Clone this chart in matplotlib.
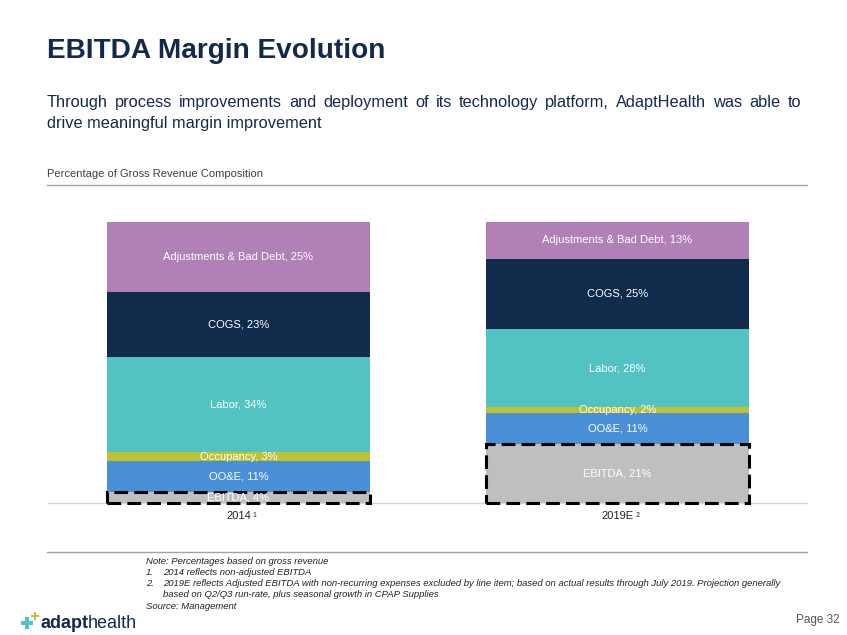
import matplotlib
matplotlib.use("Agg")
import matplotlib.pyplot as plt
from matplotlib.patches import Rectangle

plt.rcParams['font.family'] = ['Liberation Sans', 'DejaVu Sans']

# ---------------- data ----------------
periods = ["2014", "2019E"]
period_marks = ["1", "2"]
components = ["EBITDA", "OO&E", "Occupancy", "Labor", "COGS", "Adjustments & Bad Debt"]
values_2014 = [4, 11, 3, 34, 23, 25]
values_2019 = [21, 11, 2, 28, 25, 13]
colors = ["#BFBFBF", "#4A90D9", "#BEC230", "#52C3C2", "#102B4B", "#B180B7"]

title = "EBITDA Margin Evolution"
subtitle_1 = "Through process improvements and deployment of its technology platform, AdaptHealth was able to"
subtitle_2 = "drive meaningful margin improvement"
section = "Percentage of Gross Revenue Composition"
notes = [
    ("", "Note: Percentages based on gross revenue"),
    ("1.", "2014 reflects non-adjusted EBITDA"),
    ("2.", "2019E reflects Adjusted EBITDA with non-recurring expenses excluded by line item; based on actual results through July 2019. Projection generally"),
    ("", "based on Q2/Q3 run-rate, plus seasonal growth in CPAP Supplies"),
    ("", "Source: Management"),
]

W, H = 847, 635
fig = plt.figure(figsize=(W / 100, H / 100), dpi=100)
fig.patch.set_facecolor("white")

def fy(py):
    return 1 - py / H

def fx(px):
    return px / W

navy = "#13294B"

# Title & subtitle
fig.text(fx(47), fy(58), title, fontsize=20.2, fontweight="bold", color=navy, va="baseline", ha="left")

renderer = fig.canvas.get_renderer()
words = subtitle_1.split(" ")
sub_fs = 11.8
x_left, x_right = 47, 801
tmp = [fig.text(0, 0, w, fontsize=sub_fs) for w in words]
widths = [t.get_window_extent(renderer).width for t in tmp]
for t in tmp:
    t.remove()
gap = (x_right - x_left - sum(widths)) / (len(words) - 1)
x = x_left
for w, wd in zip(words, widths):
    fig.text(fx(x), fy(107), w, fontsize=sub_fs, color=navy, va="baseline", ha="left")
    x += wd + gap
fig.text(fx(47), fy(128), subtitle_2, fontsize=sub_fs, color=navy, va="baseline", ha="left")

# Section header
fig.text(fx(47), fy(177), section, fontsize=8, color="#404040", va="baseline", ha="left")
fig.add_artist(plt.Line2D([fx(47), fx(807)], [fy(185), fy(185)], color="#9AA3AE", lw=1))

# ---------------- chart ----------------
ax = fig.add_axes([fx(48), fy(503), fx(807) - fx(48), fy(222) - fy(503)])
xpos = [0, 1]
bar_w = 0.694
all_vals = [values_2014, values_2019]
for i, vals in enumerate(all_vals):
    bottom = 0
    for j, (comp, v) in enumerate(zip(components, vals)):
        ax.bar(xpos[i], v, bottom=bottom, width=bar_w, color=colors[j], edgecolor="none", zorder=2)
        ax.text(xpos[i], bottom + v / 2, f"{comp}, {v}%", ha="center", va="center",
                color="white", fontsize=8, zorder=4)
        if comp == "EBITDA":
            r = Rectangle((xpos[i] - bar_w / 2, bottom), bar_w, v, fill=False,
                          edgecolor="black", lw=2.2, linestyle=(0, (4.5, 2)), zorder=3, clip_on=False)
            ax.add_patch(r)
        bottom += v

ax.set_xlim(-0.5026, 1.5)
ax.set_ylim(0, 100)
for s in ["top", "right", "left"]:
    ax.spines[s].set_visible(False)
ax.spines["bottom"].set_color("#D9D9D9")
ax.spines["bottom"].set_linewidth(1)
ax.set_yticks([])
ax.set_xticks(xpos)
ax.set_xticklabels(periods, fontsize=8, color="#222222")
ax.tick_params(axis="x", length=0, pad=6)
fig.canvas.draw()
for i, lab in enumerate(ax.get_xticklabels()):
    bb = lab.get_window_extent(renderer)
    fig.text((bb.x1 + 2) / W, (bb.y1 - 1) / H, period_marks[i], fontsize=5, color="#222222",
             ha="left", va="top")

# ---------------- footnotes ----------------
fig.add_artist(plt.Line2D([fx(47), fx(807)], [fy(552), fy(552)], color="#9AA3AE", lw=1))
note_fam = ['Liberation Sans Narrow', 'Liberation Sans']
note_fs = 6.8
ys = [564, 575, 586, 597, 609]
for (num, txt), y in zip(notes, ys):
    kw = dict(fontsize=note_fs, style="italic", color="#222222", family=note_fam, va="baseline")
    if num:
        fig.text(fx(146), fy(y), num, **kw)
        fig.text(fx(163), fy(y), txt, **kw)
    elif txt.startswith("based"):
        fig.text(fx(163), fy(y), txt, **kw)
    else:
        fig.text(fx(146), fy(y), txt, **kw)

# logo (plus signs drawn as markers)
fig.add_artist(plt.Line2D([fx(27)], [fy(623)], marker="P", markersize=8, color="#52C3C2",
                          markeredgewidth=0, linestyle="none"))
fig.add_artist(plt.Line2D([fx(34.5)], [fy(616)], marker="P", markersize=5.5, color="#BEC230",
                          markeredgewidth=0, linestyle="none"))
t1 = fig.text(fx(40), fy(628), "adapt", fontsize=13, fontweight="bold", color=navy, va="baseline")
fig.canvas.draw()
bb = t1.get_window_extent(renderer)
fig.text(bb.x1 / W, fy(628), "health", fontsize=13, color=navy, va="baseline")

fig.text(fx(840), fy(623), "Page 32", fontsize=8.5, color="#555555", ha="right", va="baseline")

fig.savefig("out.png", dpi=100)
